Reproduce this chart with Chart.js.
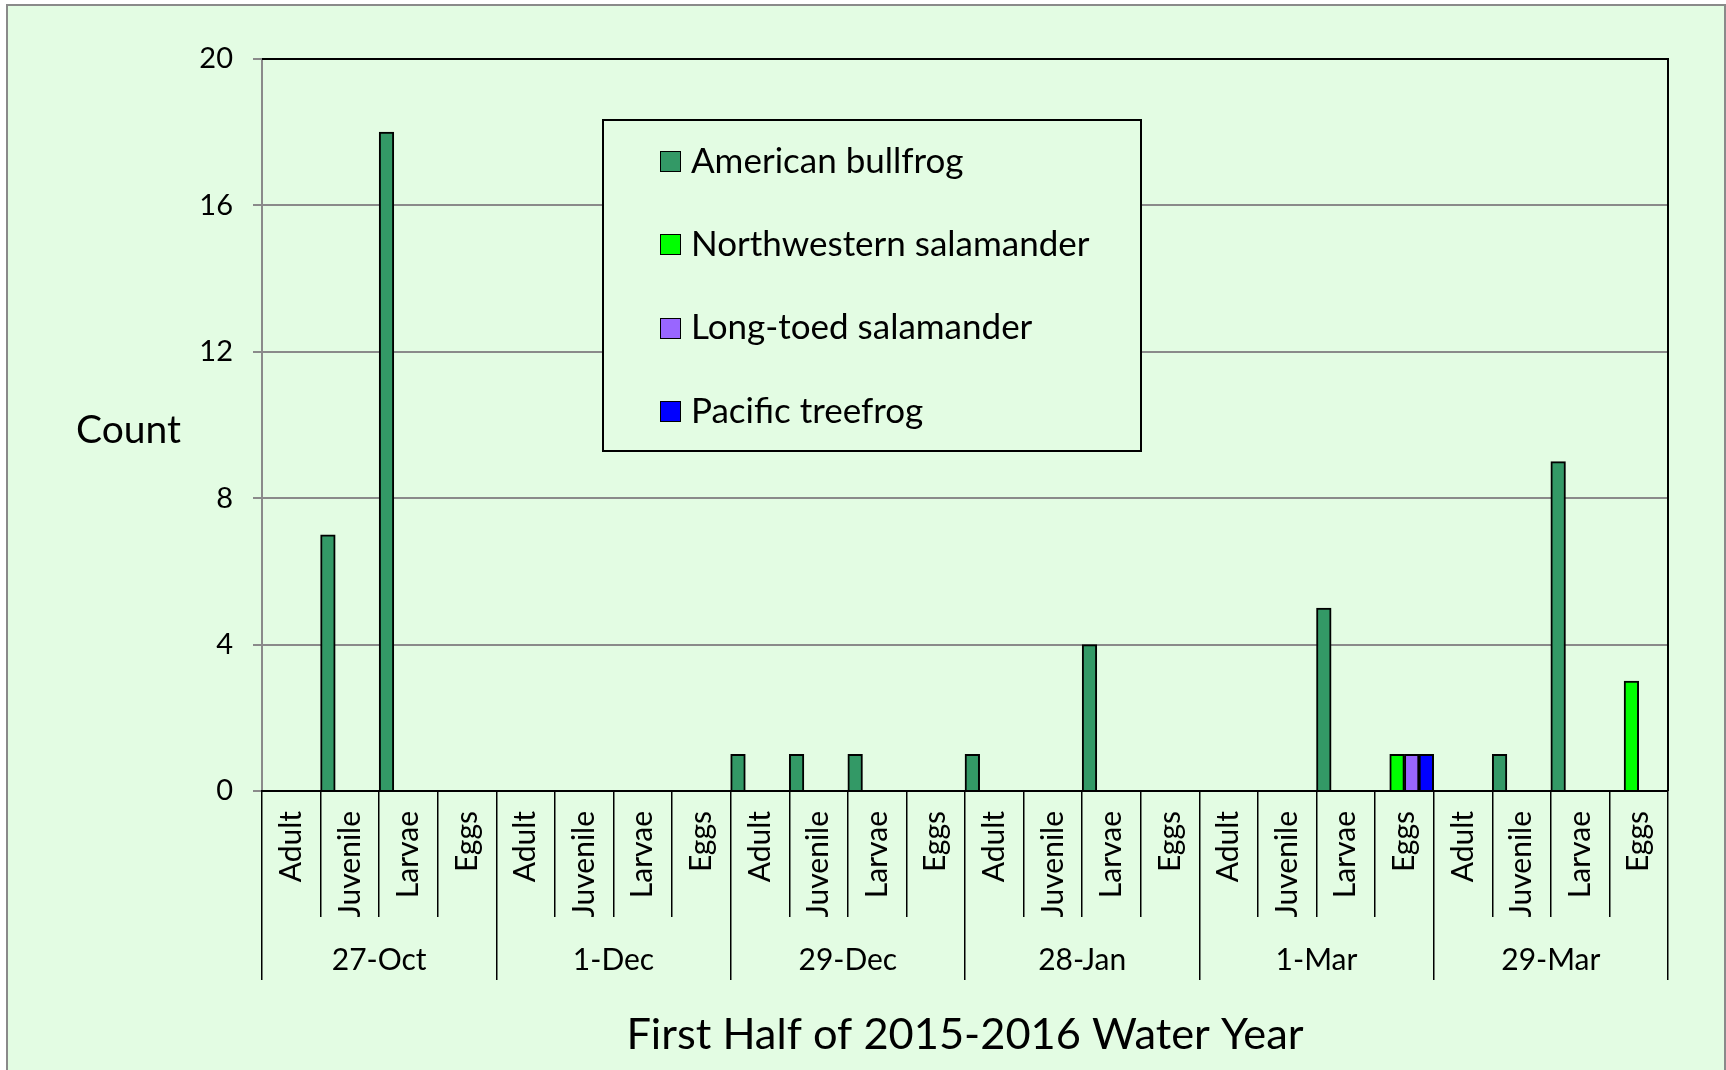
<!DOCTYPE html>
<html>
<head>
<meta charset="utf-8">
<script src="https://cdn.jsdelivr.net/npm/chart.js@4.4.1/dist/chart.umd.min.js"></script>
<style>
    html, body { margin: 0; padding: 0; background: #fff; }
    body { width: 1726px; height: 1070px; position: relative; overflow: hidden; font-family: Lato, sans-serif; }
    #frame { position: absolute; left: 6px; top: 4px; width: 1716px; height: 1070px;
        border-left: 2px solid #8a8a8a; border-top: 2px solid #8a8a8a; border-right: 2px solid #8a8a8a;
        background: #e3fce3; }
    #wrap { position: absolute; left: 0; top: 0; width: 1726px; height: 1070px; }
    #legend { position: absolute; left: 602px; top: 119px; width: 536px; height: 329px;
        border: 2px solid #000; background: #e3fce3; }
    .item { height: 83.3px; display: flex; align-items: center; padding-left: 56px; font-size: 35px; color: #000;
        position: relative; top: -4px; }
    .box { width: 19px; height: 19px; border: 1.5px solid #000; margin-right: 10px; margin-top: 6px; }
</style>
</head>
<body>
<div id="frame"></div>
<div id="wrap"><canvas id="chart"></canvas></div>
<div id="legend"></div>
<script>
// survey dates and life stages (x axis)
let dates = ['27-Oct', '1-Dec', '29-Dec', '28-Jan', '1-Mar', '29-Mar']
let stages = ['Adult', 'Juvenile', 'Larvae', 'Eggs']

let seriesNames = ['American bullfrog', 'Northwestern salamander', 'Long-toed salamander', 'Pacific treefrog']
let seriesColors = ['#339966', '#00ff00', '#9966ff', '#0000ff']

// counts, one per date x stage (Adult, Juvenile, Larvae, Eggs)
let bullfrog     = [0, 7, 18, 0,  0, 0, 0, 0,  1, 1, 1, 0,  1, 0, 4, 0,  0, 0, 5, 0,  0, 1, 9, 0]
let nwSalamander = [0, 0, 0, 0,   0, 0, 0, 0,  0, 0, 0, 0,  0, 0, 0, 0,  0, 0, 0, 1,  0, 0, 0, 3]
let ltSalamander = [0, 0, 0, 0,   0, 0, 0, 0,  0, 0, 0, 0,  0, 0, 0, 0,  0, 0, 0, 1,  0, 0, 0, 0]
let treefrog     = [0, 0, 0, 0,   0, 0, 0, 0,  0, 0, 0, 0,  0, 0, 0, 0,  0, 0, 0, 1,  0, 0, 0, 0]

let yTicks = [0, 4, 8, 12, 16, 20]

let stageLabels = []
dates.forEach(() => stages.forEach(s => stageLabels.push(s)))

let seriesData = [bullfrog, nwSalamander, ltSalamander, treefrog]

Chart.defaults.font.family = 'Lato'
Chart.defaults.color = '#000'

// plot frame (top and right edges) and the horizontal "Count" label
const framePlugin = {
    id: 'frame',
    afterDraw(chart) {
        let ctx = chart.ctx
        let a = chart.chartArea
        ctx.save()
        ctx.strokeStyle = '#000'
        ctx.lineWidth = 2
        ctx.beginPath()
        ctx.moveTo(a.left, a.top)
        ctx.lineTo(a.right, a.top)
        ctx.lineTo(a.right, a.bottom)
        ctx.stroke()
        ctx.fillStyle = '#000'
        ctx.font = '39px Lato'
        ctx.textAlign = 'left'
        ctx.textBaseline = 'middle'
        ctx.fillText('Count', 76, (a.top + a.bottom) / 2 + 5)
        ctx.restore()
    }
}

let chart = new Chart(document.getElementById('chart').getContext('2d'), {
    type: 'bar',
    data: {
        labels: stageLabels,
        datasets: seriesData.map((d, i) => ({
            label: seriesNames[i],
            data: d,
            backgroundColor: seriesColors[i],
            borderColor: '#000',
            borderWidth: 2,
            categoryPercentage: 1,
            barPercentage: 1
        }))
    },
    options: {
        responsive: true,
        maintainAspectRatio: false,
        animation: false,
        layout: { padding: { left: 0, right: 58, top: 59, bottom: 3 } },
        plugins: {
            legend: { display: false },
            tooltip: { enabled: false }
        },
        scales: {
            y: {
                min: 0,
                max: 20,
                afterBuildTicks: axis => { axis.ticks = yTicks.map(v => ({ value: v })) },
                afterFit: axis => { axis.width = 262 },
                ticks: { font: { size: 29 }, padding: 20 },
                grid: {
                    color: ctx => ctx.tick && ctx.tick.value === 20 ? '#000' : '#8a8a8a',
                    tickColor: '#8a8a8a',
                    lineWidth: 2,
                    tickLength: 9
                },
                border: { color: '#8a8a8a', width: 2 }
            },
            x: {
                offset: true,
                afterFit: axis => { axis.height = 126 },
                ticks: { autoSkip: false, minRotation: 90, maxRotation: 90, font: { size: 30 }, padding: -106 },
                grid: { offset: true, drawOnChartArea: false, color: '#000', lineWidth: 1.5, tickLength: 126 },
                border: { color: '#000', width: 2 }
            },
            x2: {
                type: 'category',
                position: 'bottom',
                labels: dates,
                offset: true,
                afterFit: axis => { axis.height = 150 },
                ticks: { autoSkip: false, maxRotation: 0, font: { size: 30 }, padding: -38 },
                grid: { offset: true, drawOnChartArea: false, color: '#000', lineWidth: 1.5, tickLength: 63 },
                border: { display: false },
                title: {
                    display: true,
                    text: 'First Half of 2015-2016 Water Year',
                    font: { size: 43.4 },
                    padding: { top: 0, bottom: 6 }
                }
            }
        }
    },
    plugins: [framePlugin]
})

// legend box inside the plot
let legend = document.getElementById('legend')
seriesNames.forEach((name, i) => {
    let row = document.createElement('div')
    row.className = 'item'
    let box = document.createElement('span')
    box.className = 'box'
    box.style.background = seriesColors[i]
    row.appendChild(box)
    row.appendChild(document.createTextNode(name))
    legend.appendChild(row)
})
</script>
</body>
</html>
